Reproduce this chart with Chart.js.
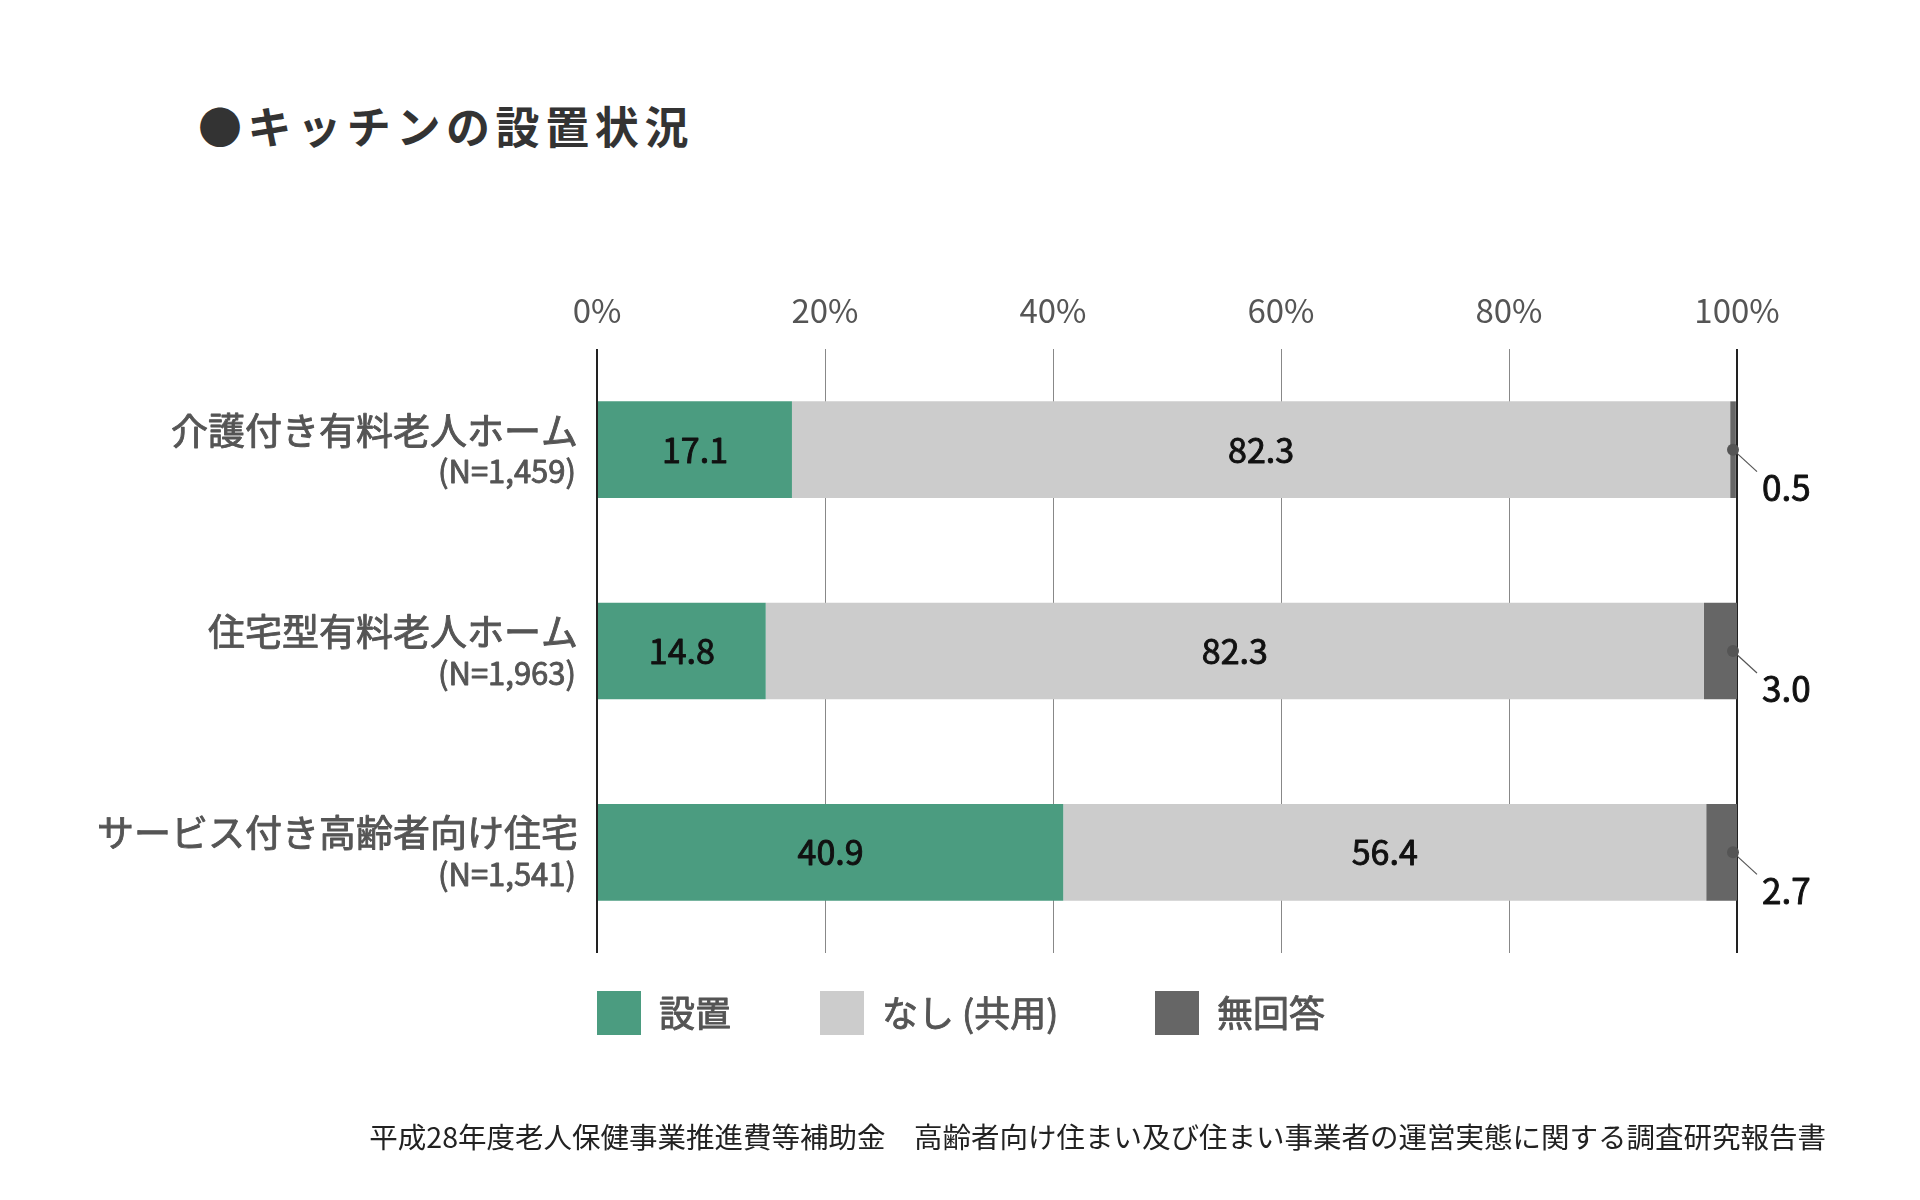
<!DOCTYPE html>
<html lang="ja">
<head>
<meta charset="utf-8">
<script src="https://cdn.jsdelivr.net/npm/chart.js@4.4.0/dist/chart.umd.min.js"></script>
<style>
  html, body { margin: 0; padding: 0; background: #fff; }
  body { width: 1920px; height: 1200px; position: relative; overflow: hidden; font-family: 'Noto Sans CJK JP', sans-serif; }
  #title { position: absolute; left: 198px; top: 97px; font-size: 44px; font-weight: 700; color: #333; letter-spacing: 5.6px; line-height: 56px; white-space: nowrap; }
  #source { position: absolute; right: 94px; top: 1118px; font-size: 28.5px; color: #222; line-height: 36px; white-space: nowrap; }
  canvas { position: absolute; left: 0; top: 0; }
</style>
</head>
<body>
<div id="title">●キッチンの設置状況</div>
<canvas id="chart" width="1920" height="1200"></canvas>
<div id="source">平成28年度老人保健事業推進費等補助金&#x3000;高齢者向け住まい及び住まい事業者の運営実態に関する調査研究報告書</div>
<script>
const categories = ['介護付き有料老人ホーム', '住宅型有料老人ホーム', 'サービス付き高齢者向け住宅'];
const sampleSizes = ['(N=1,459)', '(N=1,963)', '(N=1,541)'];
const seriesNames = ['設置', 'なし (共用)', '無回答'];
const installed = [17.1, 14.8, 40.9];
const shared = [82.3, 82.3, 56.4];
const noAnswer = [0.5, 3.0, 2.7];
const xTicks = [0, 20, 40, 60, 80, 100];

const FONT = "'Noto Sans CJK JP', sans-serif";
const COLORS = ['#4b9c80', '#cccccc', '#666666'];

const fmt = (v) => Number(v).toFixed(1);

// regular weight + thin outline, to get close to a medium weight
function medText(ctx, text, x, y, color, weight) {
  ctx.fillStyle = color;
  ctx.strokeStyle = color;
  ctx.lineWidth = weight;
  ctx.lineJoin = 'round';
  ctx.fillText(text, x, y);
  ctx.strokeText(text, x, y);
}

const labelPlugin = {
  id: 'labels',
  afterDatasetsDraw(chart) {
    const { ctx, scales: { x, y } } = chart;
    ctx.save();

    // category labels on the left
    categories.forEach((name, i) => {
      const cy = y.getPixelForValue(i);
      ctx.textAlign = 'right';
      ctx.textBaseline = 'middle';
      ctx.font = `37px ${FONT}`;
      medText(ctx, name, 578, cy - 19, '#555', 0.9);
      ctx.font = `31px ${FONT}`;
      medText(ctx, sampleSizes[i], 576, cy + 22, '#555', 0.9);
    });

    // values inside the first two segments
    [0, 1].forEach((di) => {
      chart.getDatasetMeta(di).data.forEach((bar, i) => {
        const { x: end, base, y: cy } = bar.getProps(['x', 'base', 'y'], true);
        ctx.textAlign = 'center';
        ctx.textBaseline = 'middle';
        ctx.font = `34px ${FONT}`;
        medText(ctx, fmt(chart.data.datasets[di].data[i]), (end + base) / 2, cy, '#111', 0.9);
      });
    });

    // no-answer values with leader lines
    const right = x.getPixelForValue(100);
    chart.getDatasetMeta(2).data.forEach((bar, i) => {
      const cy = bar.y;
      const dx = right - 4;
      ctx.strokeStyle = '#555';
      ctx.lineWidth = 1.2;
      ctx.beginPath();
      ctx.moveTo(dx, cy);
      ctx.lineTo(dx + 24, cy + 22);
      ctx.stroke();
      ctx.fillStyle = '#555';
      ctx.beginPath();
      ctx.arc(dx, cy, 6, 0, Math.PI * 2);
      ctx.fill();
      ctx.textAlign = 'left';
      ctx.textBaseline = 'middle';
      ctx.font = `35px ${FONT}`;
      medText(ctx, fmt(noAnswer[i]), right + 25, cy + 38, '#111', 0.9);
    });

    // legend
    const legendX = [597, 820, 1155];
    seriesNames.forEach((name, i) => {
      ctx.fillStyle = COLORS[i];
      ctx.fillRect(legendX[i], 991, 44, 44);
      ctx.textAlign = 'left';
      ctx.textBaseline = 'middle';
      ctx.font = `36px ${FONT}`;
      medText(ctx, name, legendX[i] + 62, 1013, '#555', 0.9);
    });

    ctx.restore();
  },
};

const isEdge = (ctx) => ctx.tick && (ctx.tick.value === 0 || ctx.tick.value === 100);

new Chart(document.getElementById('chart'), {
  type: 'bar',
  data: {
    labels: categories,
    datasets: [installed, shared, noAnswer].map((data, i) => ({
      label: seriesNames[i],
      data,
      backgroundColor: COLORS[i],
      borderWidth: 0,
      categoryPercentage: 1,
      barPercentage: 0.48,
    })),
  },
  options: {
    indexAxis: 'y',
    responsive: false,
    animation: false,
    devicePixelRatio: 1,
    layout: { padding: { top: 280, right: 183, bottom: 247, left: 0 } },
    plugins: { legend: { display: false }, tooltip: { enabled: false } },
    scales: {
      x: {
        position: 'top',
        stacked: true,
        min: 0,
        max: 100,
        afterBuildTicks: (scale) => { scale.ticks = xTicks.map((value) => ({ value })); },
        afterFit: (scale) => { scale.height = 69; },
        ticks: {
          callback: (v) => `${v}%`,
          font: { family: FONT, size: 33 },
          color: '#555',
          padding: 19,
          maxRotation: 0,
        },
        grid: {
          drawTicks: false,
          color: (c) => (isEdge(c) ? '#222' : '#888'),
          lineWidth: (c) => (isEdge(c) ? 2 : 1),
        },
        border: { display: false },
      },
      y: {
        stacked: true,
        afterFit: (scale) => { scale.width = 597; },
        ticks: { display: false },
        grid: { display: false },
        border: { display: false },
      },
    },
  },
  plugins: [labelPlugin],
});
</script>
</body>
</html>
